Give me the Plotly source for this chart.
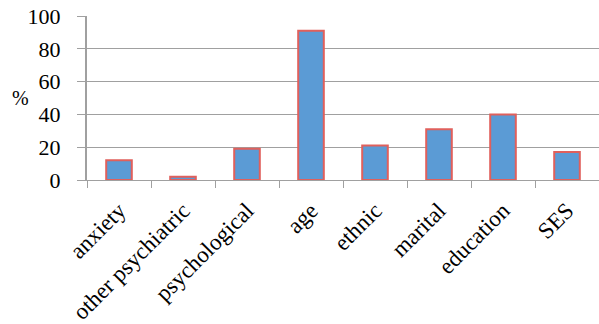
import plotly.graph_objects as go

categories = ["anxiety", "other psychiatric", "psychological", "age",
              "ethnic", "marital", "education", "SES"]
values = [12, 2, 19, 91, 21, 31, 40, 17]
y_ticks = [0, 20, 40, 60, 80, 100]

FONT = "Liberation Serif"
GRID = "#A0A0A0"

fig = go.Figure(go.Bar(
    x=categories, y=values,
    marker=dict(color="#5B9BD5", line=dict(color="#E0605C", width=2)),
    width=0.4,
))

fig.update_layout(
    width=599, height=324,
    margin=dict(l=87, r=0, t=16, b=144),
    paper_bgcolor="white", plot_bgcolor="white",
    font=dict(family=FONT, size=22, color="black"),
    showlegend=False,
    bargap=0.6,
)

fig.update_xaxes(
    showgrid=False, showline=True, linecolor=GRID, linewidth=1,
    ticks="outside", tickson="boundaries", ticklen=7, tickcolor=GRID,
    tickwidth=1, tickangle=-45, ticklabelstandoff=7,
    tickfont=dict(family=FONT, size=23, color="black"),
)

fig.update_yaxes(
    range=[0, 100], tickvals=y_ticks,
    showgrid=True, gridcolor=GRID, gridwidth=1,
    showline=True, linecolor=GRID, linewidth=2,
    ticks="outside", ticklen=8, tickcolor=GRID, tickwidth=1,
    ticklabelstandoff=12,
    zeroline=False,
    tickfont=dict(family=FONT, size=22, color="black"),
)

fig.add_annotation(
    text="%", xref="paper", yref="paper", x=-0.11, y=0.5,
    xanchor="right", yanchor="middle", showarrow=False,
    font=dict(family=FONT, size=20, color="black"),
)

fig.write_html("out.html")
